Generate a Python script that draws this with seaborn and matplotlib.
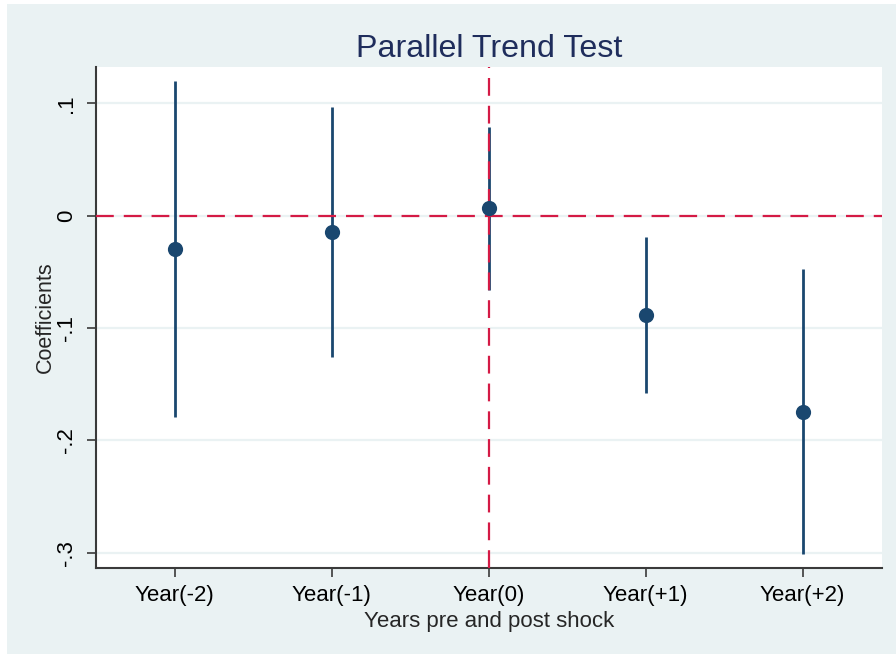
import matplotlib
matplotlib.use("Agg")
import matplotlib.pyplot as plt
import seaborn as sns
import pandas as pd
from matplotlib.patches import Rectangle

# Data
periods = ["Year(-2)", "Year(-1)", "Year(0)", "Year(+1)", "Year(+2)"]
coef = [-0.0296, -0.0145, 0.0069, -0.0883, -0.1744]
ci_low = [-0.179, -0.1257, -0.0661, -0.158, -0.301]
ci_high = [0.1199, 0.097, 0.0792, -0.019, -0.0477]
yticks = [-0.3, -0.2, -0.1, 0.0, 0.1]
ytick_labels = ["-.3", "-.2", "-.1", "0", ".1"]

df = pd.DataFrame({"pos": list(range(1, len(periods) + 1)), "period": periods,
                   "coef": coef, "lo": ci_low, "hi": ci_high})

sns.set_style("white")
plt.rcParams["font.family"] = ["Liberation Sans", "DejaVu Sans"]

BG = "#EAF2F3"
NAVY = "#1A476F"
RED = "#D41A45"

fig = plt.figure(figsize=(8.96, 6.54), dpi=100, facecolor="white")
fig.patches.append(Rectangle((7 / 896, 0), 1, 1 - 4 / 654, transform=fig.transFigure,
                             facecolor=BG, edgecolor="none", zorder=-10))
ax = fig.add_axes([96 / 896, (654 - 568) / 654, (882 - 96) / 896, (568 - 67) / 654])
ax.set_facecolor("white")

# grid lines
for yv in yticks:
    ax.axhline(yv, color=BG, lw=1.6, zorder=0)

# confidence intervals
ax.vlines(df["pos"], df["lo"], df["hi"], color=NAVY, lw=2.0, zorder=2)

# reference lines
ax.axhline(0, color=RED, lw=1.6, ls=(0, (8, 4.5)), zorder=3)
ax.axvline(3, color=RED, lw=1.6, ls=(0, (8, 4.5)), zorder=3)

# points
sns.scatterplot(data=df, x="pos", y="coef", ax=ax, color=NAVY, s=120,
                edgecolor=NAVY, linewidth=0, zorder=4, legend=False)

ax.set_xlim(0.5, 5.505)
ax.set_ylim(-0.3136, 0.1323)
ax.set_xticks(df["pos"])
ax.set_xticklabels(periods, fontsize=16)
ax.set_yticks(yticks)
ax.set_yticklabels(ytick_labels, fontsize=16, rotation=90, va="center")

for side in ["top", "right"]:
    ax.spines[side].set_visible(False)
for side in ["left", "bottom"]:
    ax.spines[side].set_color("#3a3a3a")
    ax.spines[side].set_linewidth(1.5)

ax.tick_params(axis="both", which="major", length=6.5, width=1.2, color="#3a3a3a",
               direction="out", left=True, bottom=True, colors="#3a3a3a",
               labelcolor="black")
ax.tick_params(axis="x", pad=6)
ax.tick_params(axis="y", pad=7)

ax.set_xlabel("Years pre and post shock", fontsize=16, labelpad=3)
ax.set_ylabel("Coefficients", fontsize=15.5, labelpad=0)
ax.set_title("Parallel Trend Test", fontsize=23.2, color="#1F2D5C", pad=7)

fig.savefig("out.png", dpi=100, facecolor=fig.get_facecolor())
